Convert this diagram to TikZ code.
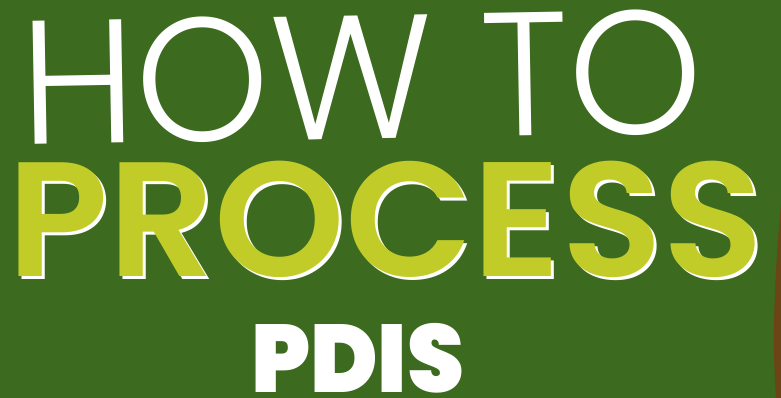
\documentclass[tikz,border=0pt]{standalone}
\usepackage{fontspec}
\usepackage{tikz}

\newfontfamily\lightfont{Poppins Light}
\newfontfamily\boldfont{Poppins SemiBold}
\newfontfamily\heavyfont{Poppins Black}

\definecolor{boardgreen}{HTML}{3C6A1E}
\definecolor{limeyellow}{HTML}{C1CC28}
\definecolor{barkbrown}{HTML}{6B4515}

\tikzset{
    headline/.style={inner sep=0pt, outer sep=0pt, anchor=base west},
    titlehow/.style={headline, text=white, font=\lightfont\fontsize{176}{176}\selectfont},
    titleprocess/.style={headline, text=limeyellow, font=\boldfont\fontsize{163}{163}\selectfont},
    titleshadow/.style={titleprocess, text=white},
    titlepdis/.style={headline, text=white, font=\heavyfont\fontsize{96}{96}\selectfont}
}

\begin{document}
\begin{tikzpicture}[x=1pt, y=-1pt]
    % background
    \fill[boardgreen] (0,0) rectangle (781,398);
    \useasboundingbox (0,0) rectangle (781,398);

    % bark at the right edge
    \fill[barkbrown] (781,205) .. controls (776,260) and (771,330) .. (776,398)
        -- (781,398) -- cycle;

    % titles
    \node[titlehow, rotate=1, xscale=0.97] (how) at (21,145) {HOW TO};

    \node[titleshadow, xscale=1.02] (processshadow) at (10,279) {PROCESS};
    \node[titleprocess, xscale=1.02] (process) at (7,276) {PROCESS};

    \node[titlepdis, xscale=0.95] (pdis) at (251,392) {PDIS};
\end{tikzpicture}
\end{document}
